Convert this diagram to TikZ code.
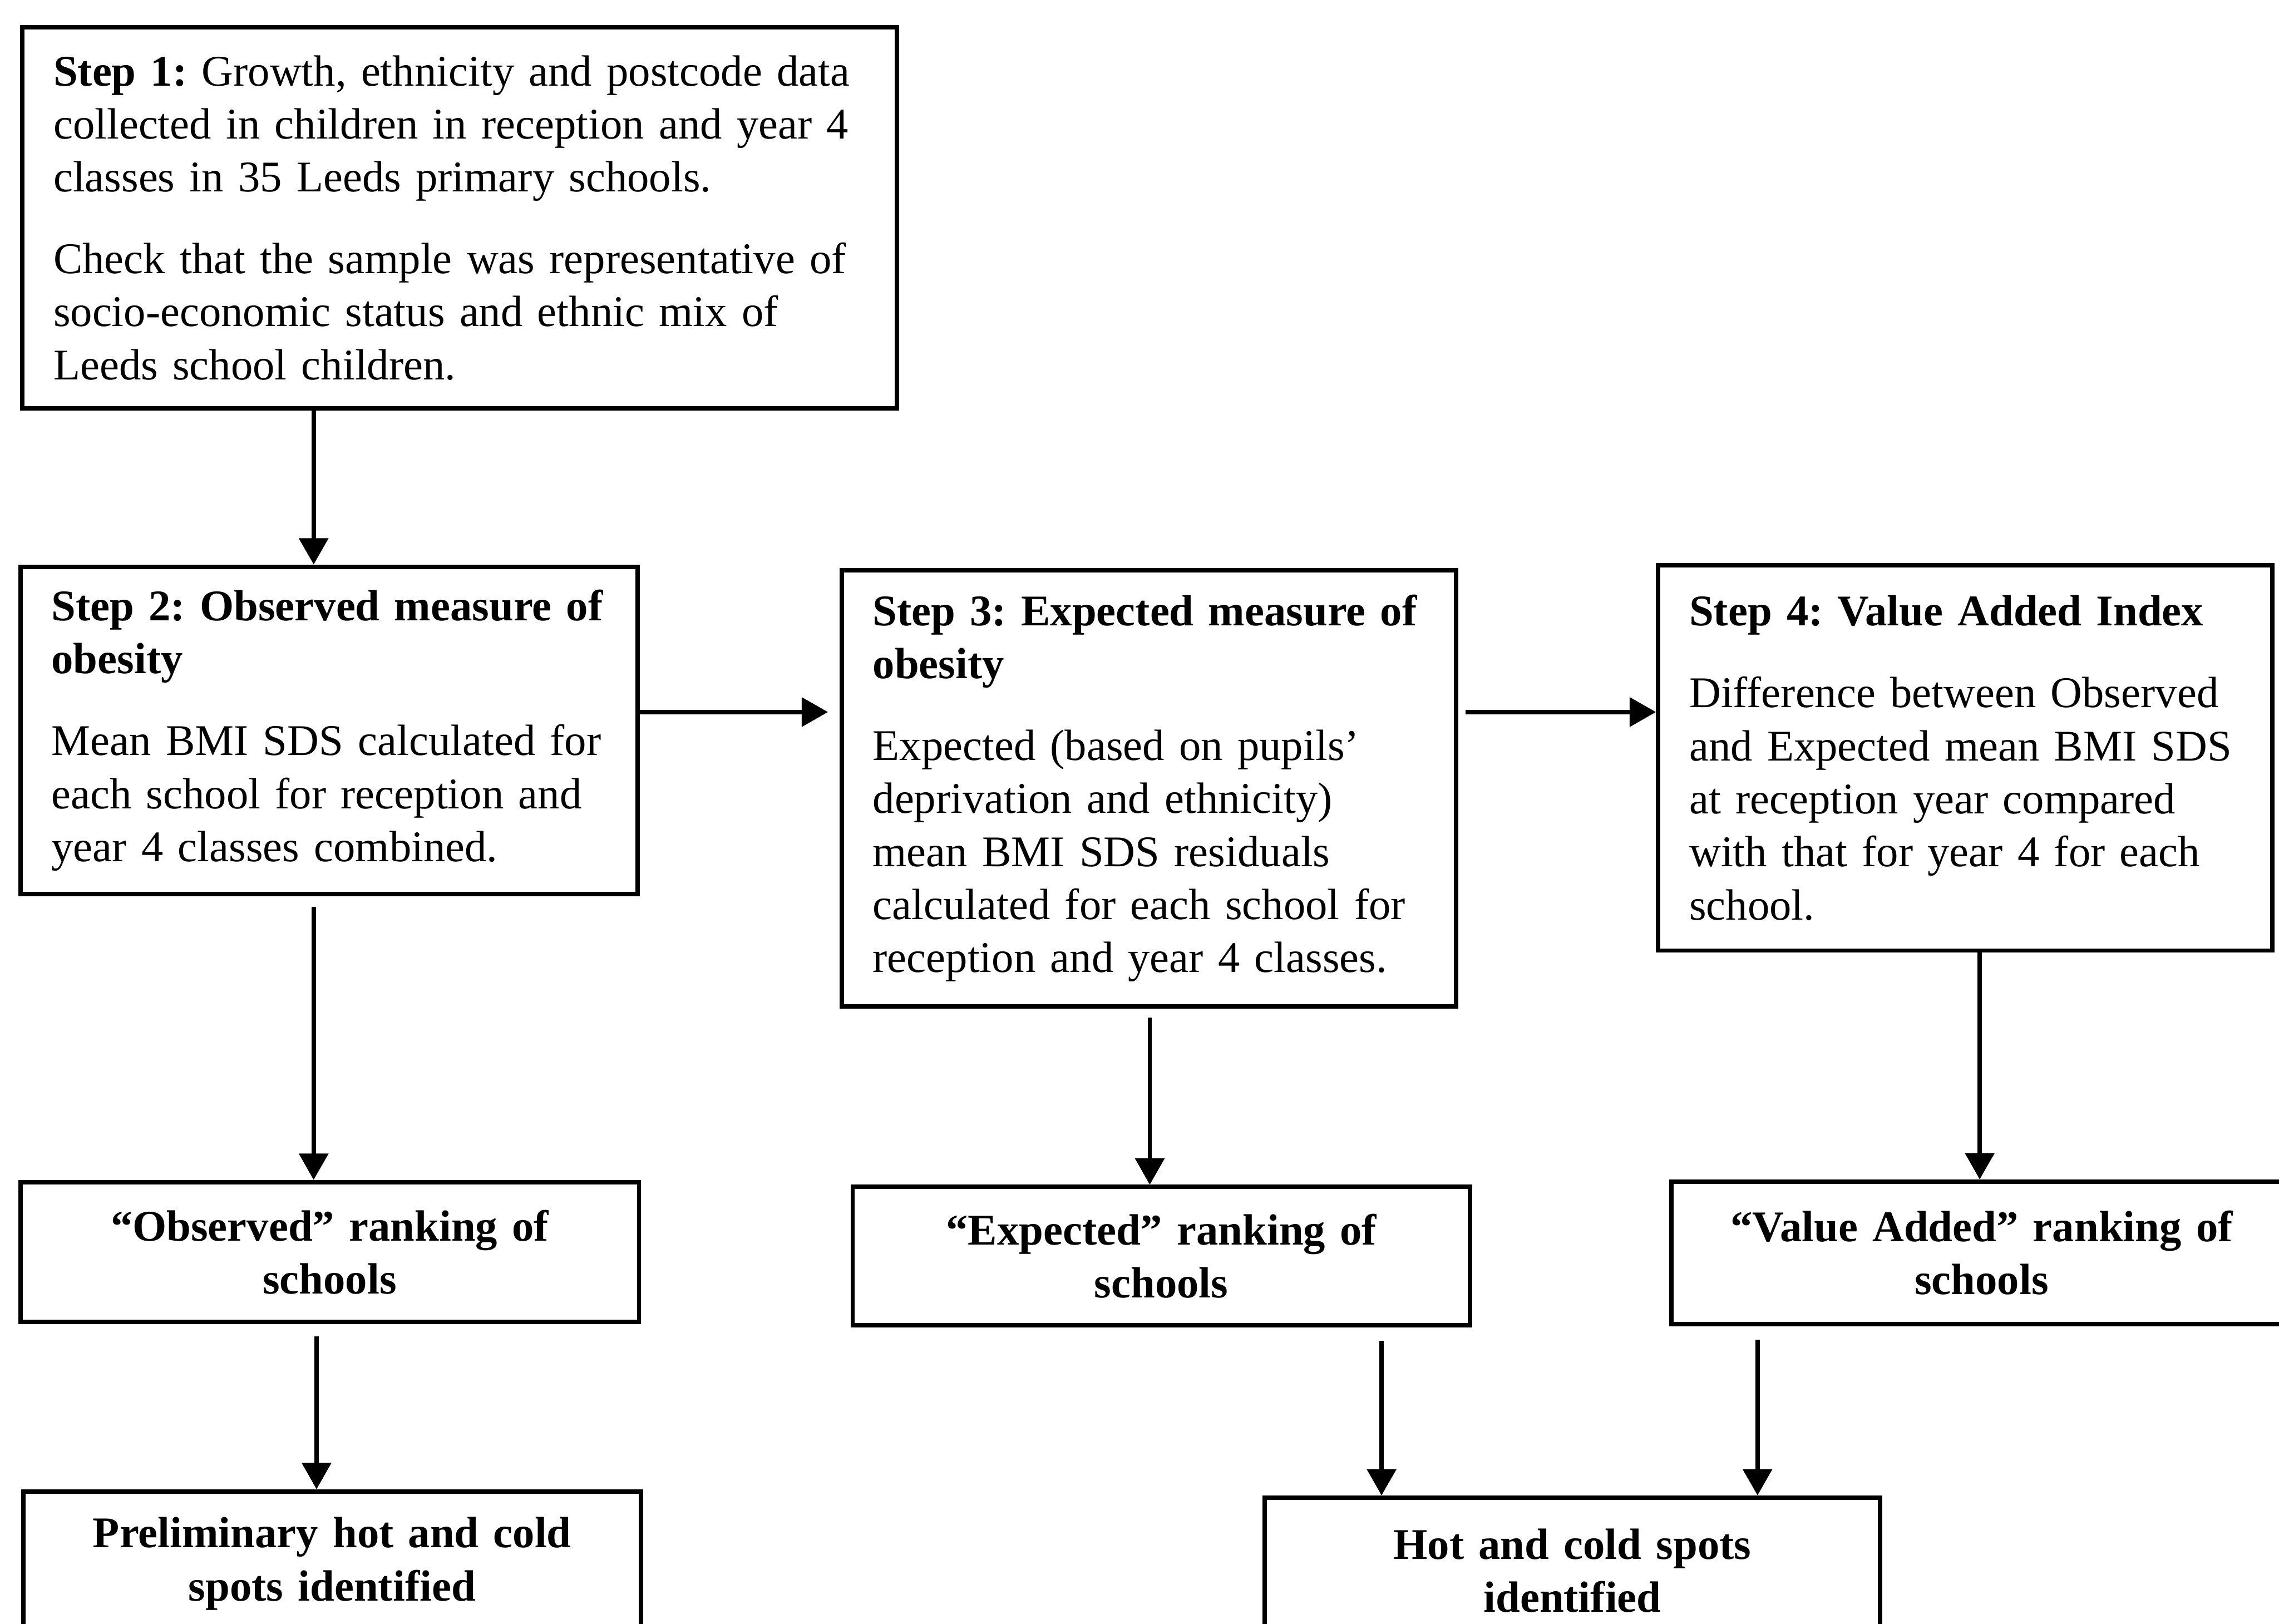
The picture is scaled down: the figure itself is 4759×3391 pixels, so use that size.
\documentclass[tikz,border=0pt]{standalone}
\usepackage{fontspec}
\setmainfont{Liberation Serif}
\usetikzlibrary{arrows.meta}
\frenchspacing
\begin{document}
\begin{tikzpicture}[x=0.01cm,y=-0.01cm,
  box/.style={draw, line width=2.6pt, inner xsep=0.65cm, inner ysep=0pt,
    anchor=north west, font=\fontsize{26}{31.5}\selectfont},
  stepbox/.style={box, align=left},
  rankbox/.style={box, align=center, font=\bfseries\fontsize{26}{31.5}\selectfont},
  arr/.style={line width=2.6pt, -{Triangle[length=0.55cm,width=0.6cm]}}]
\useasboundingbox (0,0) rectangle (4759,3391);
\clip (0,0) rectangle (4759,3391);

% step boxes
\node[stepbox, text width=16.95cm, minimum height=7.96cm] (s1) at (42,52)
  {\textbf{Step 1:} Growth, ethnicity and postcode data\\
   collected in children in reception and year 4\\
   classes in 35 Leeds primary schools.\\[17pt]
   Check that the sample was representative of\\
   socio-economic status and ethnic mix of\\
   Leeds school children.};
\node[stepbox, text width=11.58cm, minimum height=6.83cm] (s2) at (38,1179)
  {\textbf{Step 2: Observed measure of}\\
   \textbf{obesity}\\[17pt]
   Mean BMI SDS calculated for\\
   each school for reception and\\
   year 4 classes combined.};
\node[stepbox, text width=11.52cm, minimum height=9.11cm] (s3) at (1753,1186)
  {\textbf{Step 3: Expected measure of}\\
   \textbf{obesity}\\[17pt]
   Expected (based on pupils’\\
   deprivation and ethnicity)\\
   mean BMI SDS residuals\\
   calculated for each school for\\
   reception and year 4 classes.};
\node[stepbox, text width=11.52cm, minimum height=8.04cm] (s4) at (3458,1176)
  {\textbf{Step 4: Value Added Index}\\[17pt]
   Difference between Observed\\
   and Expected mean BMI SDS\\
   at reception year compared\\
   with that for year 4 for each\\
   school.};

% ranking boxes
\node[rankbox, text width=11.61cm, minimum height=2.92cm] (obs) at (38,2464)
  {“Observed” ranking of\\ schools};
\node[rankbox, text width=11.58cm, minimum height=2.89cm] (exp) at (1776,2474)
  {“Expected” ranking of\\ schools};
\node[rankbox, text width=11.64cm, minimum height=2.97cm] (va) at (3486,2463)
  {“Value Added” ranking of\\ schools};

% outcome boxes
\node[rankbox, text width=11.59cm, minimum height=3.02cm] (pre) at (44,3110)
  {Preliminary hot and cold\\ spots identified};
\node[rankbox, text width=11.55cm, minimum height=3.04cm] (hot) at (2636,3123)
  {Hot and cold spots\\ identified};

% connector positions
\coordinate (c1) at (655,0);
\coordinate (c2) at (2401,0);
\coordinate (c3) at (4134,0);
\coordinate (c4) at (661,0);
\coordinate (c5) at (2885,0);
\coordinate (c6) at (3670,0);
\coordinate (r1) at (0,1487);

% connectors
\draw[arr] (s1.south -| c1) -- (s2.north -| c1);
\draw[arr, shorten >=0.24cm] (s2.east |- r1) -- (s3.west |- r1);
\draw[arr, shorten <=0.15cm] (s3.east |- r1) -- (s4.west |- r1);
\draw[arr, shorten <=0.22cm] (s2.south -| c1) -- (obs.north -| c1);
\draw[arr, shorten <=0.18cm] (s3.south -| c2) -- (exp.north -| c2);
\draw[arr] (s4.south -| c3) -- (va.north -| c3);
\draw[arr, shorten <=0.25cm] (obs.south -| c4) -- (pre.north -| c4);
\draw[arr, shorten <=0.28cm] (exp.south -| c5) -- (hot.north -| c5);
\draw[arr, shorten <=0.28cm] (va.south -| c6) -- (hot.north -| c6);
\end{tikzpicture}
\end{document}
